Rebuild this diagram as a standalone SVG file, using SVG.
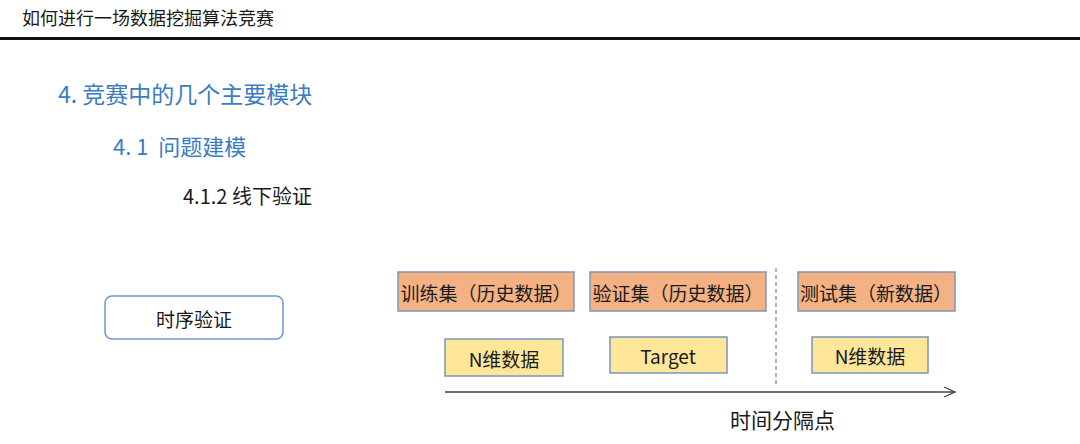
<svg xmlns="http://www.w3.org/2000/svg" width="1080" height="444" viewBox="0 0 1080 444">
<defs>
<style>
text{font-family:"Noto Sans CJK SC","Liberation Sans",sans-serif;}
.hdr{font-size:18px;fill:#1a1a1a;}
.blue{fill:#3a7dc0;}
.lbl{font-size:19px;fill:#1a1a1a;text-anchor:middle;dominant-baseline:central;}
.orange{fill:#f4b183;stroke:#7a96bd;stroke-width:1.5;}
.yellow{fill:#ffe699;stroke:#7a96bd;stroke-width:1.5;}
</style>
<marker id="arr" markerWidth="14" markerHeight="12" refX="12" refY="6" orient="auto" markerUnits="userSpaceOnUse">
<path d="M1,1 L12,6 L1,11" fill="none" stroke="#404040" stroke-width="1.3"/>
</marker>
</defs>
<rect width="1080" height="444" fill="#ffffff"/>
<text class="hdr" x="22" y="25">如何进行一场数据挖掘算法竞赛</text>
<rect x="0" y="37" width="1080" height="3" fill="#111111"/>
<text class="blue" x="58" y="103" font-size="23">4. 竞赛中的几个主要模块</text>
<text class="blue" x="113" y="155" font-size="22" xml:space="preserve">4. 1  问题建模</text>
<text x="183" y="204" font-size="20" fill="#1a1a1a">4.1.2 线下验证</text>

<g id="node-shixu">
<rect x="105" y="296" width="178" height="43" rx="7" fill="#ffffff" stroke="#6a9ad0" stroke-width="1.5"/>
<text class="lbl" x="194" y="318" font-size="22">时序验证</text>
</g>
<g id="node-train">
<rect class="orange" x="398" y="272" width="176" height="39"/>
<text class="lbl" x="486" y="292">训练集（历史数据）</text>
</g>
<g id="node-valid">
<rect class="orange" x="590" y="272" width="176" height="39"/>
<text class="lbl" x="678" y="292">验证集（历史数据）</text>
</g>
<g id="node-test">
<rect class="orange" x="798" y="272" width="157" height="39"/>
<text class="lbl" x="876" y="292">测试集（新数据）</text>
</g>
<g id="node-n1">
<rect class="yellow" x="445" y="339" width="118" height="37"/>
<text class="lbl" x="504" y="358" font-size="21">N维数据</text>
</g>
<g id="node-target">
<rect class="yellow" x="610" y="337" width="117" height="36"/>
<text class="lbl" x="668" y="355">Target</text>
</g>
<g id="node-n2">
<rect class="yellow" x="812" y="337" width="116" height="36"/>
<text class="lbl" x="870" y="355" font-size="21">N维数据</text>
</g>
<g id="connectors">
<line x1="776" y1="268" x2="776" y2="384" stroke="#666666" stroke-width="1" stroke-dasharray="4,3"/>
<line x1="445" y1="392" x2="955" y2="392" stroke="#404040" stroke-width="1.5" marker-end="url(#arr)"/>
</g>
<text x="730" y="428" font-size="21" fill="#1a1a1a">时间分隔点</text>
</svg>
